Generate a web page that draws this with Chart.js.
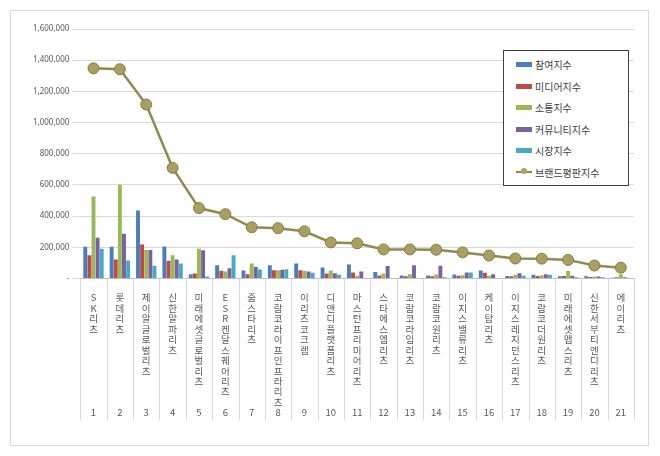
<!DOCTYPE html><html><head><meta charset="utf-8">
<script src="https://cdn.jsdelivr.net/npm/chart.js@4"></script>
<style>
body{margin:0;background:#fff;font-family:"Noto Sans CJK KR","Noto Sans",sans-serif}
#wrap{position:relative;width:660px;height:456px}
#frame{position:absolute;left:10px;top:10px;width:639px;height:436px;border:1px solid #d9d9d9;box-sizing:border-box}
#legend{position:absolute;left:503px;top:50px;width:126px;height:136px;border:1px solid #404040;background:#fff;box-sizing:border-box;padding:3px 0 0 12px;font-size:10px;color:#404040}
#legend div{height:21.5px;display:flex;align-items:center}
#legend i{display:inline-block;width:16px;height:5px;margin-right:3px}
</style></head><body><div id="wrap"><div id="frame"></div><canvas id="c" width="660" height="456"></canvas>
<div id="legend"></div></div>
<script>
const names=["SK리츠","롯데리츠","제이알글로벌리츠","신한알파리츠","미래에셋글로벌리츠","ESR켄달스퀘어리츠","줌스타리츠","코람코라이프인프라리츠","이리츠코크렙","디앤디플랫폼리츠","마스턴프리미어리츠","스타에스엠리츠","코람코라임리츠","코람코원리츠","이지스밸류리츠","케이탑리츠","이지스레지던스리츠","코람코더원리츠","미래에셋맵스리츠","신한서부티엔디리츠","에이리츠"];
const ranks=["1","2","3","4","5","6","7","8","9","10","11","12","13","14","15","16","17","18","19","20","21"];
const seriesNames=["참여지수","미디어지수","소통지수","커뮤니티지수","시장지수","브랜드평판지수"];
const participation=[204000,204000,437000,206000,28000,86000,52000,86000,97000,71000,90000,43000,20000,20000,26000,52000,17000,24000,15000,15000,6000];
const media=[150000,123000,219000,114000,32000,50000,28000,54000,54000,32000,39000,20000,15000,15000,19000,37000,15000,17000,17000,11000,8000];
const communication=[527000,602000,183000,150000,191000,45000,97000,54000,50000,52000,19000,32000,28000,26000,22000,19000,24000,22000,49000,13000,28000];
const community=[262000,288000,183000,123000,181000,67000,75000,56000,45000,34000,45000,80000,86000,82000,39000,28000,34000,28000,19000,13000,8000];
const market=[191000,116000,82000,97000,13000,150000,58000,60000,37000,24000,4000,4000,4000,8000,39000,4000,19000,24000,8000,8000,4000];
const brand=[1348000,1342000,1116000,710000,452000,413000,329000,323000,303000,232000,226000,187000,187000,185000,168000,148000,129000,128000,120000,84000,70000];
const colors=["#4a7ebb","#be4b48","#98b954","#7d60a0","#46aac5","#8f8a4f"];
const labels=names.map((n,i)=>{const a=Array.from(n);while(a.length<11)a.push("");a.push(ranks[i]);return a;});
const barData=[participation,media,communication,community,market];
const datasets=barData.map((d,i)=>({type:"bar",label:seriesNames[i],data:d,backgroundColor:colors[i],categoryPercentage:0.78,barPercentage:0.95,order:2}));
datasets.push({type:"line",label:seriesNames[5],data:brand,borderColor:"#8f8a4f",borderWidth:2.5,pointRadius:5.5,pointBackgroundColor:"#a89f60",pointBorderColor:"#857d45",pointBorderWidth:1,order:1});
const lg=document.getElementById("legend");
seriesNames.forEach((s,i)=>{const d=document.createElement("div");d.innerHTML=(i<5?`<i style="background:${colors[i]}"></i>`:`<i style="height:2px;background:${colors[5]};position:relative;width:16px"><b style="position:absolute;left:5px;top:-3px;width:6px;height:6px;border-radius:50%;background:#a89f60"></b></i>`)+s;lg.appendChild(d);});
const sep={id:"sep",afterDraw(c){const x=c.scales.x,ctx=c.ctx,ca=c.chartArea;ctx.save();ctx.strokeStyle="#d9d9d9";ctx.lineWidth=1;const w=(x.getPixelForValue(1)-x.getPixelForValue(0));for(let i=0;i<=names.length;i++){const px=Math.round(x.getPixelForValue(0)-w/2+i*w)+0.5;ctx.beginPath();ctx.moveTo(px,ca.bottom);ctx.lineTo(px,420);ctx.stroke();}ctx.restore();}};
new Chart(document.getElementById("c"),{data:{labels,datasets},plugins:[sep],options:{responsive:false,animation:false,
layout:{padding:{top:29,right:26,left:30,bottom:32}},
plugins:{legend:{display:false},tooltip:{enabled:false}},
scales:{x:{grid:{display:false},border:{color:"#bfbfbf"},ticks:{maxRotation:0,autoSkip:false,font:{size:9.5,family:"'Noto Sans CJK KR'",lineHeight:1.1},color:"#595959",padding:6}},
y:{min:0,max:1600000,border:{display:false},grid:{color:"#d9d9d9"},ticks:{stepSize:200000,font:{size:8,family:"'Noto Sans'"},color:"#595959",callback:v=>v===0?"-":v.toLocaleString("en-US")}}}}});
</script></body></html>
